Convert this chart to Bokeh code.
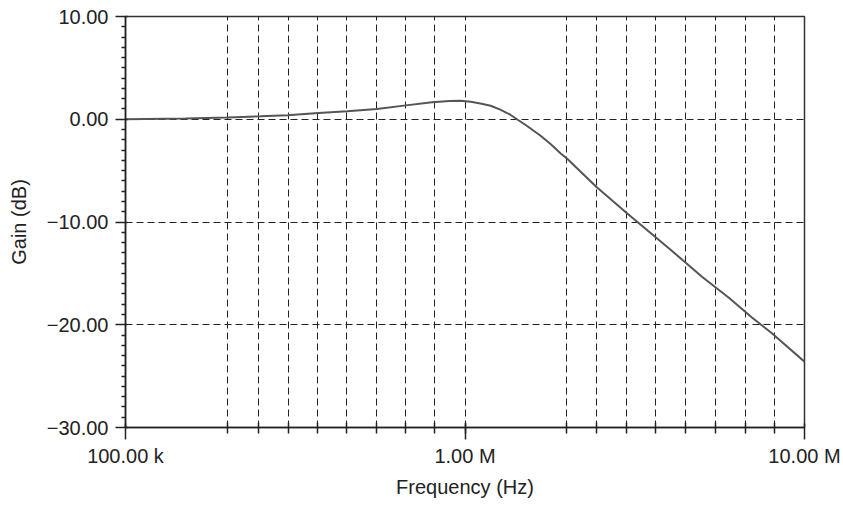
from bokeh.plotting import figure
from bokeh.models import FixedTicker, CustomJSTickFormatter, Range1d
from bokeh.embed import file_html
from bokeh.resources import INLINE

# Frequency response
freq_hz = [100e3, 150e3, 200e3, 250e3, 300e3, 370e3, 450e3, 550e3, 670e3, 800e3,
           900e3, 970e3, 1.04e6, 1.11e6, 1.19e6, 1.27e6, 1.36e6, 1.43e6, 1.52e6,
           1.67e6, 1.79e6, 1.91e6, 2.0e6, 2.44e6, 3.0e6,
           4.0e6, 5.0e6, 6.0e6, 7.0e6, 8.0e6, 10.0e6]
gain_db = [0.0, 0.07, 0.17, 0.28, 0.40, 0.60, 0.78, 1.00, 1.35, 1.65,
           1.77, 1.80, 1.70, 1.54, 1.31, 0.93, 0.44, -0.05, -0.63,
           -1.61, -2.43, -3.30, -3.85, -6.60, -9.15,
           -12.60, -15.35, -17.40, -19.30, -20.80, -23.60]

x_tick_values = [1e5, 1e6, 1e7]
x_tick_labels = ["100.00 k", "1.00 M", "10.00 M"]
x_grid_values = [200e3, 246e3, 302e3, 368e3, 448e3, 549e3, 668e3, 813e3, 1e6,
                 1.99e6, 2.44e6, 2.99e6, 3.64e6, 4.46e6, 5.47e6, 6.70e6, 8.16e6]
y_tick_values = [-30, -20, -10, 0, 10]
y_tick_labels = ["\u221230.00", "\u221220.00", "\u221210.00", "0.00", "10.00"]
y_minor_values = [-29, -28, -27, -26, -25, -24, -23, -22, -21,
                  -19, -18, -17, -16, -15, -14, -13, -12, -11,
                  -9, -8, -7, -6, -5, -4, -3, -2, -1,
                  1, 2, 3, 4, 5, 6, 7, 8, 9]
y_grid_values = [-20, -10, 0]

FONT = "Liberation Sans"

p = figure(width=843, height=505, x_axis_type="log",
           x_range=Range1d(1e5, 1e7), y_range=Range1d(-30, 10),
           output_backend="svg", toolbar_location=None,
           min_border_left=125, min_border_right=39,
           min_border_top=16, min_border_bottom=78)

p.background_fill_color = "white"
p.border_fill_color = "white"
p.outline_line_color = "#333333"
p.outline_line_width = 1.5

p.line(freq_hz, gain_db, line_color="#555555", line_width=2)

# X axis
xa = p.xaxis[0]
xa.ticker = FixedTicker(ticks=x_tick_values, minor_ticks=x_grid_values)
xa.formatter = CustomJSTickFormatter(
    args=dict(vals=x_tick_values, labs=x_tick_labels),
    code="for (let i = 0; i < vals.length; i++) { if (Math.abs(Math.log10(tick) - Math.log10(vals[i])) < 1e-6) return labs[i]; } return '';")
xa.axis_label = "Frequency (Hz)"
xa.axis_line_color = "#222222"
xa.axis_line_width = 1.5
xa.major_tick_line_color = "#222222"
xa.major_tick_line_width = 1.5
xa.major_tick_out = 12
xa.major_tick_in = 4
xa.minor_tick_line_color = "#222222"
xa.minor_tick_line_width = 1.5
xa.minor_tick_out = 6
xa.minor_tick_in = 5
xa.major_label_standoff = 5
xa.axis_label_standoff = 6

# Y axis
ya = p.yaxis[0]
ya.ticker = FixedTicker(ticks=y_tick_values, minor_ticks=y_minor_values)
ya.formatter = CustomJSTickFormatter(
    args=dict(vals=y_tick_values, labs=y_tick_labels),
    code="for (let i = 0; i < vals.length; i++) { if (Math.abs(tick - vals[i]) < 1e-6) return labs[i]; } return '';")
ya.axis_label = "Gain (dB)"
ya.axis_line_color = "#222222"
ya.axis_line_width = 1.5
ya.major_tick_line_color = "#222222"
ya.major_tick_line_width = 1.5
ya.major_tick_out = 10
ya.major_tick_in = 2
ya.minor_tick_line_color = "#222222"
ya.minor_tick_line_width = 1.5
ya.minor_tick_out = 4
ya.minor_tick_in = 0
ya.major_label_standoff = 7
ya.axis_label_standoff = 14

for ax in (xa, ya):
    ax.major_label_text_font = FONT
    ax.major_label_text_font_size = "20px"
    ax.major_label_text_color = "#222222"
    ax.axis_label_text_font = FONT
    ax.axis_label_text_font_size = "20px"
    ax.axis_label_text_font_style = "normal"
    ax.axis_label_text_color = "#222222"

# Grids
p.xgrid.ticker = FixedTicker(ticks=x_grid_values)
p.ygrid.ticker = FixedTicker(ticks=y_grid_values)
for g in (p.xgrid[0], p.ygrid[0]):
    g.grid_line_color = "#222222"
    g.grid_line_width = 1
    g.grid_line_dash = "7 4"

open("out.html", "w").write(file_html(p, INLINE))
